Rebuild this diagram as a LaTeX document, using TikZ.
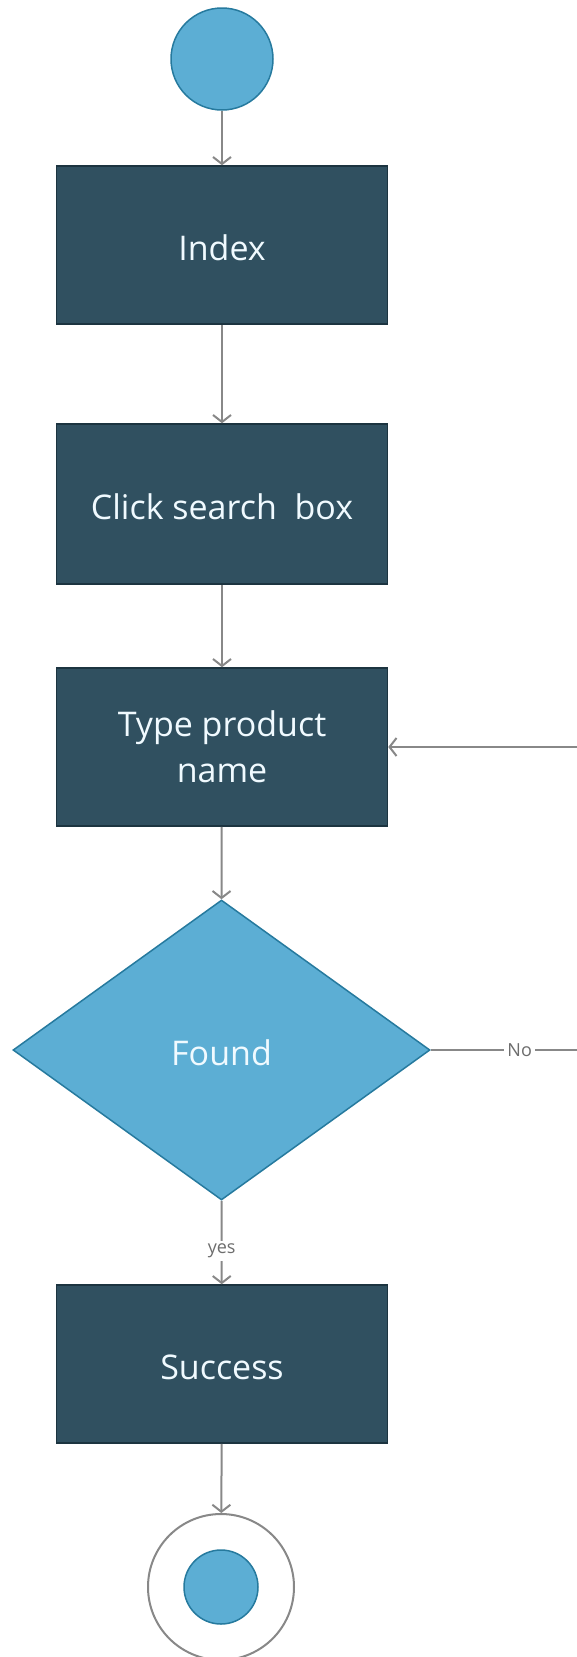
\documentclass[tikz,border=0pt]{standalone}
\usepackage{fontspec}
\setmainfont{Open Sans}
\usetikzlibrary{shapes.geometric,arrows.meta}

\definecolor{boxfill}{RGB}{48,80,96}
\definecolor{boxline}{RGB}{28,52,64}
\definecolor{lightfill}{RGB}{92,174,212}
\definecolor{lightline}{RGB}{38,122,158}
\definecolor{arrowgray}{RGB}{136,136,136}
\definecolor{textwhite}{RGB}{240,250,255}

% text sits a little below the middle of its shape
\newcommand{\droptext}[1]{\raisebox{-3pt}[\height][\depth]{#1}}

\tikzset{
  stepbox/.style={draw=boxline, fill=boxfill, line width=1.5pt, minimum width=331pt,
    minimum height=158pt, inner sep=0pt, text=textwhite, align=center,
    font=\fontsize{34}{46}\selectfont},
  decision/.style={diamond, draw=lightline, fill=lightfill, line width=1.5pt,
    minimum width=417pt, minimum height=300pt, inner sep=0pt, text=textwhite,
    font=\fontsize{34}{46}\selectfont},
  flow/.style={draw=arrowgray, line width=2pt, -{Straight Barb[length=7pt,width=18pt,line width=2pt]}},
  edgelabel/.style={fill=white, text=arrowgray!80!black, inner sep=3pt, font=\fontsize{18}{21}\selectfont}
}

\begin{document}
\begin{tikzpicture}[x=1pt, y=-1pt]
\useasboundingbox (0,0) rectangle (576,1657);

\node at (222, 59) [circle, draw=lightline, fill=lightfill, line width=1.5pt,
  minimum size=102pt, inner sep=0pt] (start) {};
\node at (222, 245) [stepbox] (index) {\droptext{Index}};
\node at (222, 504) [stepbox, minimum height=160pt] (click) {\droptext{Click search\ \ box}};
\node at (222, 747) [stepbox] (type)
  {\droptext{\setlength{\tabcolsep}{0pt}\begin{tabular}{c}Type product\\name\end{tabular}}};
\node at (221.5, 1050) [decision] (found) {\droptext{Found}};
\node at (222, 1364) [stepbox] (success) {\droptext{Success}};

\node at (221, 1587) [circle, draw=arrowgray, fill=white, line width=2pt,
  minimum size=146pt, inner sep=0pt] (finish) {};
\node at (221, 1587) [circle, draw=lightline, fill=lightfill, line width=1.5pt,
  minimum size=74pt, inner sep=0pt] (finishdot) {};

\coordinate (corner low) at (579, 1050);
\coordinate (corner high) at (579, 747);

\draw[flow] (start) -- (index);
\draw[flow] (index) -- (click);
\draw[flow] (click) -- (type);
\draw[flow] (type) -- (found.north);
\draw[flow] (found.south) -- node[edgelabel, pos=0.6] {yes} (success);
\draw[flow] (success) -- (finish);
\draw[draw=arrowgray, line width=2pt] (found.east) -- node[edgelabel, pos=0.6] {No} (corner low) -- (corner high);
\draw[flow] (corner high) -- (type.east);

\end{tikzpicture}
\end{document}
